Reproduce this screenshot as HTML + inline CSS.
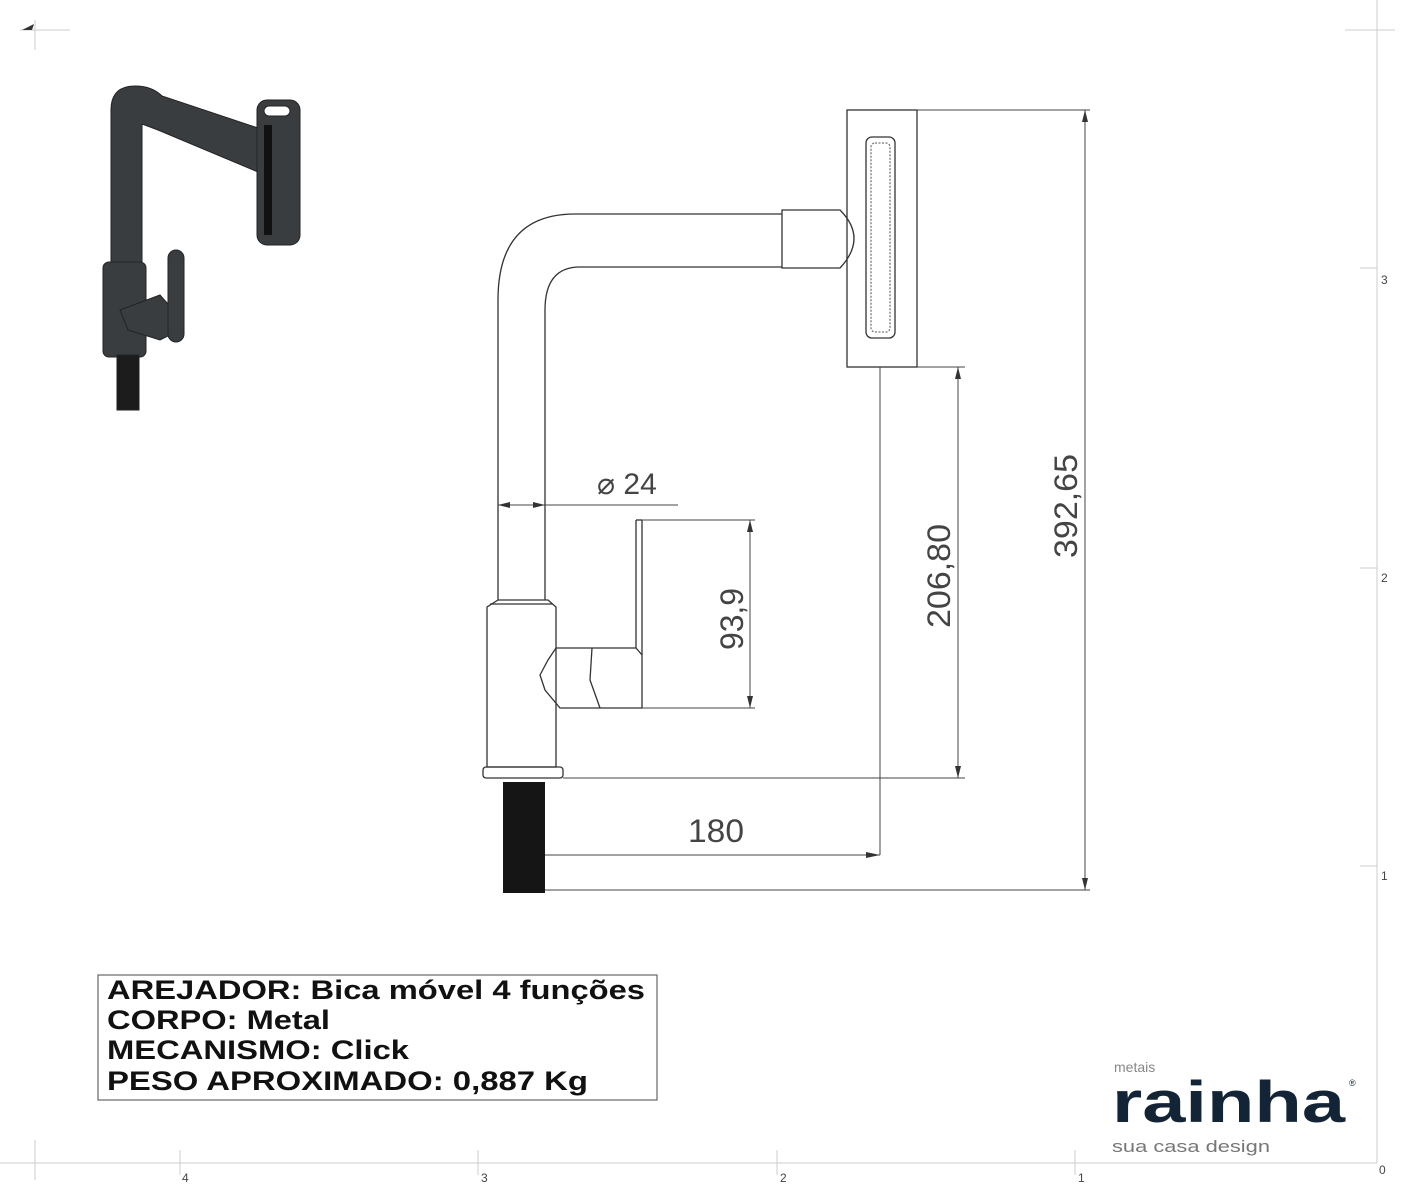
<!DOCTYPE html>
<html><head><meta charset="utf-8"><style>
html,body{margin:0;padding:0;background:#fff;}
svg{display:block;}
text{font-family:"Liberation Sans",sans-serif;}
</style></head><body>
<svg width="1406" height="1197" viewBox="0 0 1406 1197" xmlns="http://www.w3.org/2000/svg">
<rect width="1406" height="1197" fill="#fff"/>
<g stroke="#ccc" stroke-width="1" fill="none">
<line x1="1377" y1="0" x2="1377" y2="1163"/>
<line x1="0" y1="1163" x2="1377" y2="1163"/>
<line x1="1345" y1="30" x2="1395" y2="30"/>
<line x1="20" y1="30" x2="70" y2="30"/>
<line x1="35" y1="20" x2="35" y2="50"/>
<line x1="1360" y1="268" x2="1377" y2="268"/>
<line x1="1360" y1="568" x2="1377" y2="568"/>
<line x1="1360" y1="866" x2="1377" y2="866"/>
<line x1="180" y1="1150" x2="180" y2="1175"/>
<line x1="478" y1="1150" x2="478" y2="1175"/>
<line x1="777" y1="1150" x2="777" y2="1175"/>
<line x1="1075" y1="1150" x2="1075" y2="1175"/>
<line x1="35" y1="1140" x2="35" y2="1180"/>
</g>
<g font-size="12" fill="#444">
<text x="1381" y="284">3</text><text x="1381" y="582">2</text><text x="1381" y="880">1</text><text x="1379" y="1174">0</text>
<text x="182" y="1182">4</text><text x="481" y="1182">3</text><text x="780" y="1182">2</text><text x="1078" y="1182">1</text>
</g>
<path d="M22 30 L34 24 L32 30 Z" fill="#333"/>

<!-- iso faucet -->
<g fill="#3a3d40" stroke="#222" stroke-width="1">
<path d="M111 265 L111 110 Q111 86 135 86 Q152 86 162 96 L258 128 L258 172 L158 130 L142 124 L142 265 Z"/>
<rect x="257" y="100" width="43" height="145" rx="10"/>
<rect x="103" y="262" width="43" height="95" rx="6"/>
<rect x="117" y="355" width="22" height="55" fill="#1c1c1c"/>
<path d="M120 310 L160 295 L175 312 L180 330 L160 340 L128 330 Z"/>
<rect x="168" y="250" width="16" height="92" rx="8"/>
</g>
<rect x="264" y="106" width="26" height="10" rx="5" fill="#fff" stroke="#222"/>
<rect x="264" y="125" width="8" height="110" fill="#111"/>

<g stroke="#333" stroke-width="1.3" fill="none">
<rect x="847" y="110" width="70" height="257"/>
<rect x="866" y="137" width="29" height="201" rx="6"/>
<rect x="871" y="143" width="19" height="189" rx="4" stroke="#777" stroke-dasharray="2 1.5"/>
<path d="M782 214 L575 214 Q498 214 498 300 L498 600"/>
<path d="M782 267 L580 267 Q545 267 545 310 L545 600"/>
<path d="M782 210 L840 210 Q868 238 840 268 L782 268 Z"/>
<path d="M498 600 L548 600 L556 607 L556 767 L487 767 L487 607 Z"/>
<line x1="490" y1="604" x2="553" y2="604"/>
<rect x="483" y="767" width="80" height="11" rx="3"/>
<path d="M556 648 L636 648 L642 655 L642 708 L560 708 L545 690 L540 675 L548 660 Z"/>
<path d="M592 648 L590 680 L600 708"/>
<line x1="636" y1="520" x2="636" y2="648"/>
<line x1="642" y1="520" x2="642" y2="655"/>
<line x1="636" y1="520" x2="642" y2="520"/>
</g>
<rect x="503" y="782" width="42" height="111" fill="#151515"/>
<g stroke="#444" stroke-width="1" fill="none">
<line x1="498" y1="505" x2="678" y2="505"/>
<line x1="642" y1="520" x2="755" y2="520"/>
<line x1="642" y1="708" x2="755" y2="708"/>
<line x1="750" y1="520" x2="750" y2="708"/>
<line x1="917" y1="367" x2="965" y2="367"/>
<line x1="563" y1="778" x2="965" y2="778"/>
<line x1="958" y1="367" x2="958" y2="778"/>
<line x1="917" y1="110" x2="1090" y2="110"/>
<line x1="545" y1="890" x2="1090" y2="890"/>
<line x1="1085" y1="110" x2="1085" y2="890"/>
<line x1="545" y1="855" x2="880" y2="855"/>
<line x1="880" y1="367" x2="880" y2="855"/>
</g>
<g fill="#333">
<path d="M498 505 l12 -3 v6z"/><path d="M545 505 l-12 -3 v6z"/>
<path d="M750 520 l-3 12 h6z"/><path d="M750 708 l-3 -12 h6z"/>
<path d="M958 367 l-3 12 h6z"/><path d="M958 778 l-3 -12 h6z"/>
<path d="M1085 110 l-3 12 h6z"/><path d="M1085 890 l-3 -12 h6z"/>
<path d="M880 855 l-14 -3 v6z"/>
</g>
<g fill="#444" font-size="32">
<text x="597" y="494" font-size="30">⌀ 24</text>
<text x="688" y="842" textLength="56" lengthAdjust="spacingAndGlyphs">180</text>
<text transform="translate(743,650) rotate(-90)" textLength="62" lengthAdjust="spacingAndGlyphs">93,9</text>
<text transform="translate(950,628) rotate(-90)" textLength="104" lengthAdjust="spacingAndGlyphs">206,80</text>
<text transform="translate(1077,558) rotate(-90)" textLength="104" lengthAdjust="spacingAndGlyphs">392,65</text>
</g>

<rect x="98" y="975" width="559" height="125" fill="none" stroke="#666" stroke-width="1.2"/>
<g font-size="27" font-weight="bold" fill="#111" lengthAdjust="spacingAndGlyphs">
<text x="107" y="999" textLength="538" lengthAdjust="spacingAndGlyphs">AREJADOR: Bica móvel 4 funções</text>
<text x="107" y="1029" textLength="223" lengthAdjust="spacingAndGlyphs">CORPO: Metal</text>
<text x="107" y="1059" textLength="302" lengthAdjust="spacingAndGlyphs">MECANISMO: Click</text>
<text x="107" y="1090" textLength="481" lengthAdjust="spacingAndGlyphs">PESO APROXIMADO: 0,887 Kg</text>
</g>

<text x="1114" y="1072" font-size="14" fill="#888">metais</text>
<text x="1112" y="1122" font-size="58" font-weight="bold" fill="#122436" textLength="233" lengthAdjust="spacingAndGlyphs">rainha</text>
<text x="1349" y="1086" font-size="9" fill="#122436">®</text>
<text x="1112" y="1152" font-size="17" fill="#777" textLength="158" lengthAdjust="spacingAndGlyphs">sua casa design</text>
</svg>
</body></html>
